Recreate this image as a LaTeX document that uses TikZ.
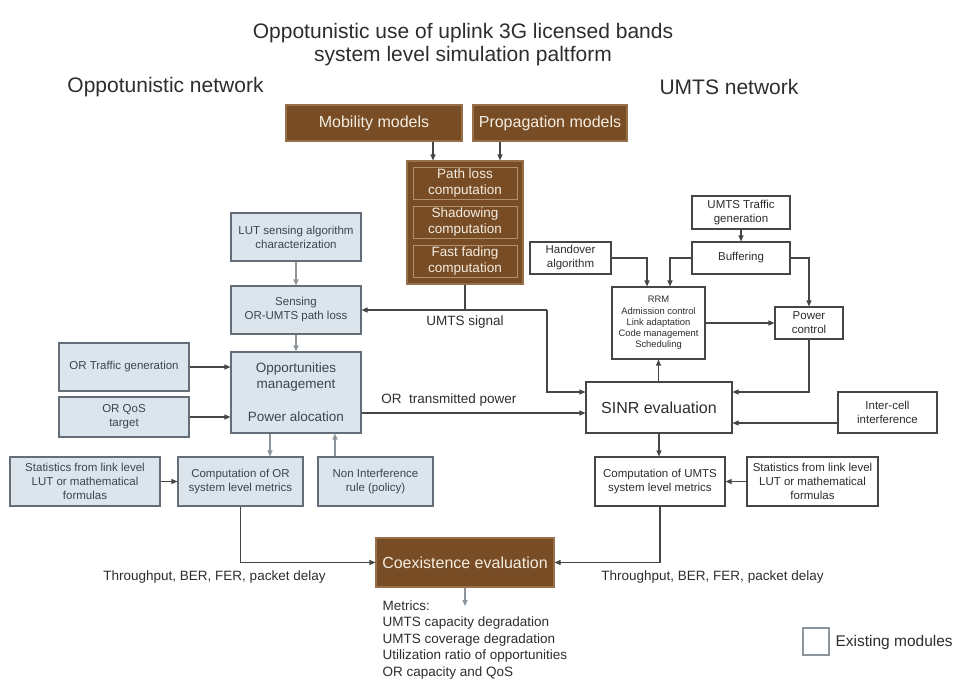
\documentclass[tikz,border=0pt]{standalone}
\usepackage{fontspec}
\setmainfont{Liberation Sans}
\usetikzlibrary{arrows.meta}

\definecolor{coffee}{RGB}{120,76,36}
\definecolor{coffeeline}{RGB}{150,112,74}
\definecolor{tan}{RGB}{176,143,106}
\definecolor{cream}{RGB}{244,237,226}
\definecolor{orfill}{RGB}{221,229,236}
\definecolor{orline}{RGB}{100,110,120}
\definecolor{ortext}{RGB}{60,68,78}
\definecolor{umline}{RGB}{70,70,70}
\definecolor{umtext}{RGB}{45,45,45}
\definecolor{softgray}{RGB}{140,148,156}

\begin{document}
\begin{tikzpicture}[x = 1pt, y = -1pt, line width = 1.1pt,
	>={Triangle[length=6pt,width=5pt]},
	brownbox/.style = {fill = coffee, draw = coffeeline, text = cream, inner sep = 0pt, align = center, font = \fontsize{16}{19}\selectfont},
	innerbox/.style = {draw = tan, line width = 0.9pt, text = cream, inner sep = 0pt, align = center, minimum width = 104, minimum height = 32, font = \fontsize{13.5}{16}\selectfont},
	orbox/.style = {fill = orfill, draw = orline, text = ortext, inner sep = 0pt, align = center, font = \fontsize{11.5}{14}\selectfont},
	umbox/.style = {fill = white, draw = umline, text = umtext, inner sep = 0pt, align = center, font = \fontsize{11.5}{14}\selectfont},
	lbl/.style = {text = umtext, inner sep = 0pt, align = center, font = \fontsize{13.5}{16}\selectfont},
	grayarr/.style = {->, draw = softgray},
	darkarr/.style = {->, draw = umline}]

\useasboundingbox (0,0) rectangle (956,686);

%%% Titles

\node[lbl, font = \fontsize{21}{23}\selectfont] (title) at (463,45) {Oppotunistic use of uplink 3G licensed bands\\system level simulation paltform};

\node[lbl, font = \fontsize{21}{23}\selectfont] (ornet) at (165.5,87) {Oppotunistic network};

\node[lbl, font = \fontsize{21}{23}\selectfont] (umnet) at (729,87) {UMTS network};

%%% Channel models

\node[brownbox, minimum width = 176, minimum height = 36] (mob) at (374,123) {Mobility models};

\node[brownbox, minimum width = 154, minimum height = 36] (prop) at (550,123) {Propagation models};

\node[brownbox, minimum width = 116, minimum height = 123] (chan) at (465,222.5) {};

\node[innerbox] (pl) at (465,183) {Path loss\\computation};
\node[innerbox] (sh) at (465,222) {Shadowing\\computation};
\node[innerbox] (ff) at (465,261) {Fast fading\\computation};

\draw[darkarr] ([xshift=-32pt]chan.north |- mob.south) -- ([xshift=-32pt]chan.north);
\draw[darkarr] ([xshift=35pt]chan.north |- prop.south) -- ([xshift=35pt]chan.north);

%%% Oppotunistic network

\node[orbox, minimum width = 130, minimum height = 48] (lut) at (296,237) {LUT sensing algorithm\\characterization};

\node[orbox, minimum width = 130, minimum height = 48] (sens) at (296,310) {Sensing\\OR-UMTS path loss};

\node[orbox, minimum width = 130, minimum height = 81, font = \fontsize{13.5}{16}\selectfont] (opp) at (296,392.5) {Opportunities\\management\\[17pt]Power alocation};

\node[orbox, minimum width = 130, minimum height = 48] (ortraf) at (124,367) {OR Traffic generation};

\node[orbox, minimum width = 130, minimum height = 40] (orqos) at (124,417) {OR QoS\\target};

\node[orbox, minimum width = 150, minimum height = 49] (statl) at (85,481.5) {Statistics from link level\\LUT or mathematical\\formulas};

\node[orbox, minimum width = 125, minimum height = 49] (compor) at (240.5,481.5) {Computation of OR\\system level metrics};

\node[orbox, minimum width = 115, minimum height = 49] (nonint) at (375.5,481.5) {Non Interference\\rule (policy)};

\draw[grayarr] (lut) -- (sens);
\draw[grayarr] (sens) -- (opp);
\draw[darkarr] (ortraf.east) -- (ortraf.east -| opp.west);
\draw[darkarr] (orqos.east) -- (orqos.east -| opp.west);
\draw[darkarr] (statl) -- (compor);
\draw[grayarr] ([xshift=29.5pt]compor.north |- opp.south) -- ([xshift=29.5pt]compor.north);
\draw[grayarr] ([xshift=-40.5pt]nonint.north) -- ([xshift=-40.5pt]nonint.north |- opp.south);

%%% UMTS network

\node[umbox, minimum width = 98, minimum height = 33] (umtr) at (741,212.5) {UMTS Traffic\\generation};

\node[umbox, minimum width = 98, minimum height = 32] (buf) at (741,258) {Buffering};

\node[umbox, minimum width = 81, minimum height = 32] (hand) at (570.5,258) {Handover\\algorithm};

\node[umbox, minimum width = 93, minimum height = 72, font = \fontsize{9.4}{11.2}\selectfont] (rrm) at (658.5,323) {RRM\\Admission control\\Link adaptation\\Code management\\Scheduling};

\node[umbox, minimum width = 68, minimum height = 32] (pc) at (809,323) {Power\\control};

\node[umbox, minimum width = 146, minimum height = 51, font = \fontsize{16}{19}\selectfont] (sinr) at (659,407.5) {SINR evaluation};

\node[umbox, minimum width = 99, minimum height = 41] (inter) at (887.5,412.5) {Inter-cell\\interference};

\node[umbox, minimum width = 130, minimum height = 49] (compum) at (660,481.5) {Computation of UMTS\\system level metrics};

\node[umbox, minimum width = 131, minimum height = 49] (statr) at (812.5,481.5) {Statistics from link level\\LUT or mathematical\\formulas};

\draw[darkarr] (umtr) -- (buf);
\draw[darkarr] (hand.east) -| ([xshift=-11.5pt]rrm.north);
\draw[darkarr] (buf.west) -| ([xshift=11.5pt]rrm.north);
\draw[darkarr] (buf.east) -| (pc.north);
\draw[darkarr] (rrm.east |- pc.west) -- (pc.west);
\draw[darkarr] (pc.south) |- ([yshift=15.5pt]sinr.east);
\draw[darkarr] ([yshift=-10.5pt]inter.west) -- ([yshift=-10.5pt]inter.west -| sinr.east);
\draw[darkarr] (sinr.north -| rrm.south) -- (rrm.south);
\draw[darkarr] (sinr.south) -- (sinr.south |- compum.north);
\draw[darkarr] (statr.west) -- (statr.west -| compum.east);

%%% Signals between both networks

\coordinate (usig) at (547,310);

\draw[darkarr] (chan.south) |- (sens.east);
\draw[umline] (chan.south |- sens.east) -- (usig);
\draw[darkarr] (usig) |- ([yshift=15.5pt]sinr.west);
\node[lbl, below = 5pt] (umsig) at (chan.south |- sens.east) {UMTS signal};

\draw[darkarr] ([yshift=-20.5pt]opp.east) -- ([yshift=-20.5pt]opp.east -| sinr.west) node[lbl, pos = 0.39, above = 6pt] (orpow) {OR\ \ transmitted power};

%%% Coexistence

\node[brownbox, minimum width = 178, minimum height = 49] (coex) at (465,562.5) {Coexistence evaluation};

\draw[darkarr] (compor.south) |- (coex.west);
\draw[darkarr] (compum.south) |- (coex.east);

\node[lbl] (thrl) at (214.5,577) {Throughput, BER, FER, packet delay};
\node[lbl] (thrr) at (712.5,577) {Throughput, BER, FER, packet delay};

\coordinate (metr) at (465,606);
\draw[grayarr] (coex.south) -- (metr);

\node[lbl, anchor = north west, align = left, font = \fontsize{13.5}{16.5}\selectfont] (metrics) at (382,600) {Metrics:\\UMTS capacity degradation\\UMTS coverage degradation\\Utilization ratio of opportunities\\OR capacity and QoS};

%%% Legend

\node[umbox, draw = softgray, minimum width = 26, minimum height = 27] (leg) at (816,641.5) {};
\node[lbl, anchor = west, font = \fontsize{15.5}{18}\selectfont] (legtxt) at (835,642) {Existing modules};

\end{tikzpicture}
\end{document}
